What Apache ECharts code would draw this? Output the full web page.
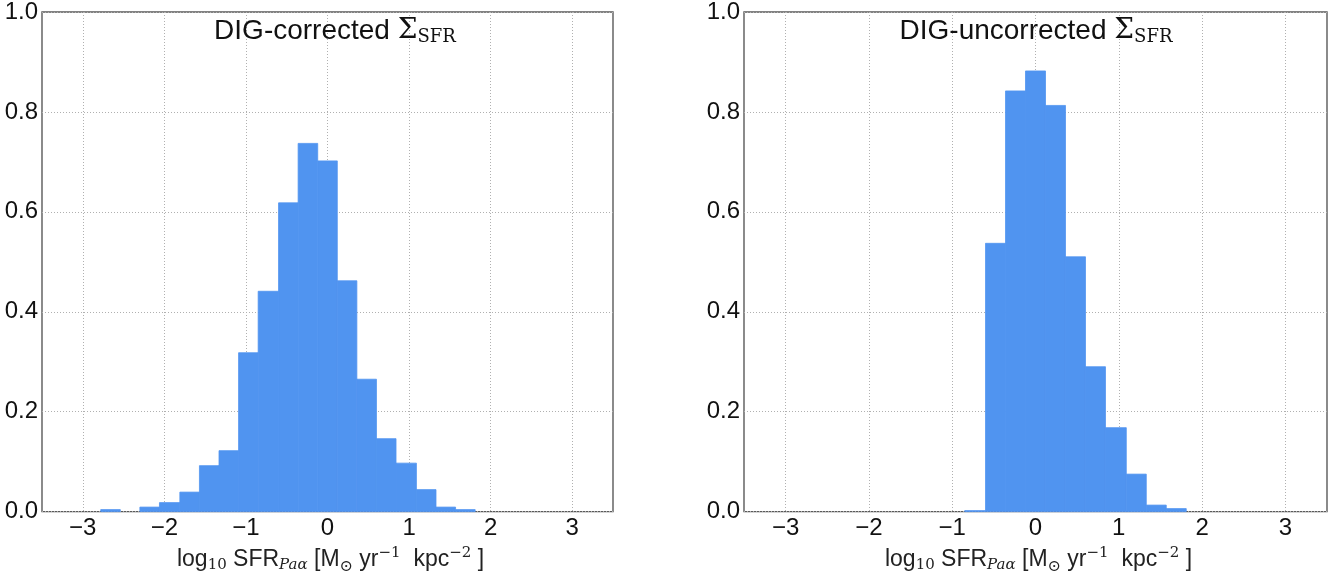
<!DOCTYPE html>
<html>
<head>
<meta charset="utf-8">
<script src="https://cdn.jsdelivr.net/npm/echarts@6/dist/echarts.min.js"></script>
<style>
html,body{margin:0;padding:0;background:#fff;}
#chart{width:1333px;height:580px;}
</style>
</head>
<body>
<div id="chart"></div>
<script>
// Histogram bin edges (shared by both panels)
const binEdges = [-2.78, -2.54, -2.30, -2.06, -1.81, -1.57, -1.33, -1.09, -0.85, -0.60, -0.36, -0.12, 0.12, 0.36, 0.60, 0.84, 1.09, 1.33, 1.57, 1.81];
// Normalised counts per bin
const correctedValues = [0.004, 0, 0.009, 0.018, 0.039, 0.092, 0.122, 0.318, 0.441, 0.618, 0.737, 0.702, 0.462, 0.265, 0.146, 0.097, 0.044, 0.009, 0.004];
const uncorrectedValues = [0, 0, 0, 0, 0, 0, 0, 0, 0.002, 0.537, 0.842, 0.882, 0.813, 0.510, 0.290, 0.168, 0.075, 0.013, 0.006];
const xTicks = [-3, -2, -1, 0, 1, 2, 3];
const panelTitles = ['DIG-corrected ', 'DIG-uncorrected '];

const BAR = '#5094f0';
const SANS = 'Liberation Sans';
const SERIF = 'DejaVu Serif';

function toBins(vals) {
  const out = [];
  for (let i = 0; i < vals.length; i++) {
    if (vals[i] > 0) out.push([binEdges[i], binEdges[i + 1], vals[i]]);
  }
  return out;
}

function renderBar(params, api) {
  const p0 = api.coord([api.value(0), api.value(2)]);
  const p1 = api.coord([api.value(1), 0]);
  return {
    type: 'rect',
    shape: { x: p0[0], y: p0[1], width: p1[0] - p0[0], height: p1[1] - p0[1] },
    style: { fill: BAR, stroke: BAR, lineWidth: 0.8 }
  };
}

const fmtX = v => (v < 0 ? '\u2212' + Math.abs(v) : String(v));

const nameRich = {
  n: { fontFamily: SANS, fontSize: 23, color: '#222' },
  s: { fontFamily: SERIF, fontSize: 15, color: '#222', padding: [11, 0, 0, 0] },
  si: { fontFamily: SERIF, fontSize: 15, fontStyle: 'italic', color: '#222', padding: [11, 0, 0, 0] },
  o: { fontFamily: SERIF, fontSize: 16, color: '#222', padding: [14, 0, 0, 0] },
  p: { fontFamily: SERIF, fontSize: 15, color: '#222', padding: [0, 0, 14, 0] }
};
const axisName = '{n|log}{s|10}{n| SFR}{si|Pa\u03b1}{n| [M}{o|\u2299}{n| yr}{p|\u22121}{n|  kpc}{p|\u22122}{n| ]}';

const gridLine = { show: true, lineStyle: { color: '#b0b0b0', type: [1, 2], width: 1 } };

function makeX(gi) {
  return {
    type: 'value', gridIndex: gi, min: -3.5, max: 3.5,
    axisLine: { show: false },
    axisTick: { show: false, customValues: xTicks },
    axisLabel: { customValues: xTicks, formatter: fmtX, fontFamily: SANS, fontSize: 24, color: '#111', margin: 5 },
    splitLine: gridLine,
    name: axisName, nameLocation: 'middle', nameGap: 25,
    nameTextStyle: { rich: nameRich, padding: [0, 0, 0, 6] }
  };
}
function makeY(gi) {
  return {
    type: 'value', gridIndex: gi, min: 0, max: 1, interval: 0.2,
    axisLine: { show: false }, axisTick: { show: false },
    axisLabel: { formatter: v => v.toFixed(1), fontFamily: SANS, fontSize: 24, color: '#111', margin: 4 },
    splitLine: gridLine
  };
}

const titleRich = {
  t: { fontFamily: SANS, fontSize: 28, fontWeight: 'normal', color: '#111' },
  g: { fontFamily: SERIF, fontSize: 28, fontWeight: 'normal', color: '#111' },
  u: { fontFamily: SERIF, fontSize: 18, fontWeight: 'normal', color: '#111', padding: [12, 0, 0, 0] }
};

const chart = echarts.init(document.getElementById('chart'), null, { renderer: 'canvas' });
chart.setOption({
  animation: false,
  backgroundColor: '#fff',
  title: [
    { text: '{t|' + panelTitles[0] + '}{g|\u03a3}{u|SFR}', left: 330, top: 11, textAlign: 'center', textStyle: { fontWeight: 'normal', rich: titleRich } },
    { text: '{t|' + panelTitles[1] + '}{g|\u03a3}{u|SFR}', left: 1031, top: 11, textAlign: 'center', textStyle: { fontWeight: 'normal', rich: titleRich } }
  ],
  grid: [
    { left: 42, top: 10.5, width: 571, height: 506, show: true, borderColor: '#5a5a5a', borderWidth: 1.4, backgroundColor: 'transparent' },
    { left: 744, top: 10.5, width: 583, height: 506, show: true, borderColor: '#5a5a5a', borderWidth: 1.4, backgroundColor: 'transparent' }
  ],
  xAxis: [makeX(0), makeX(1)],
  yAxis: [makeY(0), makeY(1)],
  series: [
    { type: 'custom', xAxisIndex: 0, yAxisIndex: 0, renderItem: renderBar, data: toBins(correctedValues), encode: { x: [0, 1], y: 2 } },
    { type: 'custom', xAxisIndex: 1, yAxisIndex: 1, renderItem: renderBar, data: toBins(uncorrectedValues), encode: { x: [0, 1], y: 2 } }
  ]
});
</script>
</body>
</html>
